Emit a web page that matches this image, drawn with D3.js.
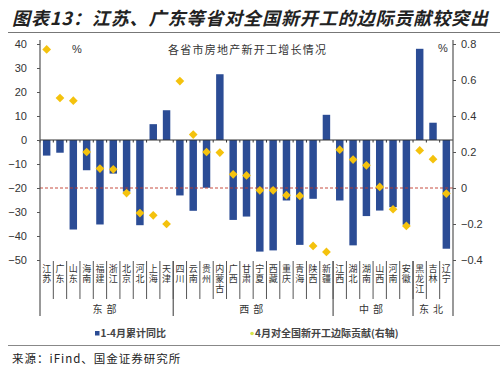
<!DOCTYPE html>
<html lang="zh">
<head>
<meta charset="UTF-8">
<title>图表13</title>
<script src="https://cdn.jsdelivr.net/npm/d3@7"></script>
<style>
  body { margin: 0; background: #fff; }
  text { font-family: "Liberation Sans", Arial, sans-serif; }
  .cjk { font-family: "Noto Sans CJK SC", sans-serif; }
  .cat { writing-mode: vertical-rl; }
</style>
</head>
<body>
<svg width="500" height="378"></svg>
<script>
// 数据
var provinces = ["江苏","广东","山东","海南","福建","浙江","北京","河北","上海","天津",
                 "四川","云南","贵州","内蒙古","广西","甘肃","宁夏","西藏","重庆","青海","陕西","新疆",
                 "江西","湖北","湖南","山西","河南","安徽",
                 "黑龙江","吉林","辽宁"];
// 1-4月累计同比 (%)
var growth = [-6.5,-5.3,-37.3,-12.6,-35.2,-14,-21.5,-35.5,6.6,12.4,
              -23.1,-29.5,-19.9,27.4,-33.3,-31.9,-46.5,-46,-25.2,-43.7,-24.5,10.5,
              -25.2,-43.9,-31.7,-29.4,-28,-35.3,
              38,7.2,-45.3];
// 4月对全国新开工边际贡献 (%, 右轴)
var contrib = [0.77,0.50,0.485,0.20,0.108,0.104,-0.028,-0.139,-0.152,-0.20,
               0.594,0.297,0.20,0.197,0.076,0.07,-0.013,-0.013,-0.04,-0.044,-0.322,-0.355,
               0.213,0.158,0.126,0.006,-0.118,-0.211,
               0.209,0.16,-0.031];
var regions = ["东部","西部","中部","东北"];
var regionSizes = [10,12,6,3];
var leftTicks = [40,30,20,10,0,-10,-20,-30,-40,-50];
var rightTicks = [0.8,0.6,0.4,0.2,0,-0.2,-0.4];

var svg = d3.select('svg'),
    margin = {left:40, right:453, top:44, bottom:260},
    barColor = '#2B4C95', dotColor = '#F4C20D', axisColor = '#555';

// 标题
svg.append('text')
    .attr('class','cjk')
    .attr('x',12).attr('y',25)
    .attr('font-size','18px').attr('font-weight','bold').attr('font-style','italic')
    .attr('fill','#222')
    .attr('textLength',476).attr('lengthAdjust','spacing')
    .text('图表13：江苏、广东等省对全国新开工的边际贡献较突出');
svg.append('line').attr('x1',8).attr('x2',500).attr('y1',32.5).attr('y2',32.5)
    .attr('stroke','#777').attr('stroke-width',1.2);

/************比例尺*************/
var x = d3.scaleBand().domain(provinces).range([margin.left,margin.right]).padding(0);
var y = d3.scaleLinear().domain([-50,40]).range([margin.bottom,margin.top]);
var y2 = d3.scaleLinear().domain([-0.4,0.8]).range([margin.bottom,margin.top]);
var bw = x.bandwidth()*0.56;

var g = svg.append('g');

// 柱子
g.selectAll('rect.bar').data(provinces).enter().append('rect')
    .attr('class','bar')
    .attr('x',function(d){return x(d)+(x.bandwidth()-bw)/2;})
    .attr('width',bw)
    .attr('y',function(d,i){return y(Math.max(0,growth[i]));})
    .attr('height',function(d,i){return Math.abs(y(growth[i])-y(0));})
    .attr('fill',barColor);

// 零线 + 刻度
g.append('line').attr('x1',margin.left).attr('x2',margin.right).attr('y1',y(0)).attr('y2',y(0))
    .attr('stroke','#333').attr('stroke-width',1);
g.selectAll('line.zt').data(provinces).enter().append('line')
    .attr('class','zt')
    .attr('x1',function(d){return x(d);}).attr('x2',function(d){return x(d);})
    .attr('y1',y(0)).attr('y2',y(0)+2.5)
    .attr('stroke','#333');

// 红色虚线 (右轴 0)
g.append('line').attr('x1',margin.left).attr('x2',margin.right).attr('y1',y2(0)).attr('y2',y2(0))
    .attr('stroke','#C0392B').attr('stroke-width',0.9).attr('stroke-dasharray','3,2');

// 菱形
g.selectAll('path.dot').data(provinces).enter().append('path')
    .attr('class','dot')
    .attr('d',d3.symbol().type(d3.symbolSquare).size(38))
    .attr('transform',function(d,i){
        return 'translate('+(x(d)+x.bandwidth()/2)+','+y2(contrib[i])+') rotate(45)';})
    .attr('fill',dotColor);

/************坐标轴*************/
var ax = svg.append('g').attr('transform','translate('+margin.left+',0)')
    .call(d3.axisLeft(y).tickValues(leftTicks).tickSize(3).tickPadding(10));
ax.select('.domain').remove();
ax.selectAll('.tick line').attr('stroke',axisColor);
ax.selectAll('.tick text').attr('font-size','11px').attr('fill','#333')
    .attr('font-family','"Liberation Sans", Arial, sans-serif');
svg.append('line').attr('x1',margin.left).attr('x2',margin.left).attr('y1',margin.top-4).attr('y2',316)
    .attr('stroke',axisColor).attr('stroke-width',1.2);

var ax2 = svg.append('g').attr('transform','translate('+margin.right+',0)')
    .call(d3.axisRight(y2).tickValues(rightTicks).tickSize(3).tickPadding(5)
        .tickFormat(function(d){return d===0?'0':d3.format('.1f')(d);}));
ax2.select('.domain').remove();
ax2.selectAll('.tick line').attr('stroke',axisColor);
ax2.selectAll('.tick text').attr('font-size','11px').attr('fill','#333')
    .attr('font-family','"Liberation Sans", Arial, sans-serif');
svg.append('line').attr('x1',margin.right).attr('x2',margin.right).attr('y1',margin.top-4).attr('y2',316)
    .attr('stroke',axisColor).attr('stroke-width',1.2);

// 单位
svg.append('text').attr('x',72).attr('y',53).attr('font-size','11px').attr('fill','#333').text('%');
svg.append('text').attr('x',438).attr('y',52).attr('font-size','11px').attr('fill','#333').text('%');
svg.append('text').attr('class','cjk').attr('x',247).attr('y',54).attr('text-anchor','middle')
    .attr('font-size','11px').attr('fill','#333')
    .attr('textLength',158).attr('lengthAdjust','spacing')
    .text('各省市房地产新开工增长情况');

/************分类标签*************/
var lab = svg.append('g');
lab.selectAll('line.sep').data(provinces.slice(1)).enter().append('line')
    .attr('class','sep')
    .attr('x1',function(d){return x(d);}).attr('x2',function(d){return x(d);})
    .attr('y1',261).attr('y2',299)
    .attr('stroke',axisColor).attr('stroke-width',1);
// 竖排文字
lab.selectAll('text.cat').data(provinces).enter().append('text')
    .attr('class','cjk cat')
    .attr('font-size','9px').attr('fill','#333')
    .attr('letter-spacing','1px')
    .attr('x',function(d){return x(d)+x.bandwidth()/2;})
    .attr('y',264)
    .text(function(d){return d;});

// 区域
var start = 0;
regions.forEach(function(r,i){
    var x0 = x(provinces[start]);
    var end = start+regionSizes[i];
    var x1 = end<provinces.length ? x(provinces[end]) : margin.right;
    if(start>0){
        lab.append('line').attr('x1',x0).attr('x2',x0).attr('y1',261).attr('y2',316)
            .attr('stroke',axisColor).attr('stroke-width',1.2);
    }
    lab.append('text').attr('class','cjk')
        .attr('x',(x0+x1)/2).attr('y',313).attr('text-anchor','middle')
        .attr('font-size','10px').attr('fill','#333').attr('letter-spacing','4px')
        .text(r);
    start = end;
});

/************图例*************/
var legend = svg.append('g').attr('font-size','10px').attr('fill','#444');
legend.append('rect').attr('x',95).attr('y',331).attr('width',4.5).attr('height',4.5).attr('fill',barColor);
legend.append('text').attr('class','cjk').attr('x',100.5).attr('y',337).attr('fill','#444')
    .attr('font-weight','bold').text('1-4月累计同比');
legend.append('circle').attr('cx',252).attr('cy',333.5).attr('r',1.8).attr('fill','#D8E64A');
legend.append('text').attr('class','cjk').attr('x',255).attr('y',337).attr('fill','#444')
    .attr('font-weight','bold').text('4月对全国新开工边际贡献(右轴)');

svg.append('line').attr('x1',8).attr('x2',500).attr('y1',345.5).attr('y2',345.5)
    .attr('stroke','#888').attr('stroke-width',1.2);
svg.append('text').attr('class','cjk').attr('x',12).attr('y',363)
    .attr('font-size','11.5px').attr('fill','#222').attr('letter-spacing','1px')
    .text('来源：iFind、国金证券研究所');
</script>
</body>
</html>
